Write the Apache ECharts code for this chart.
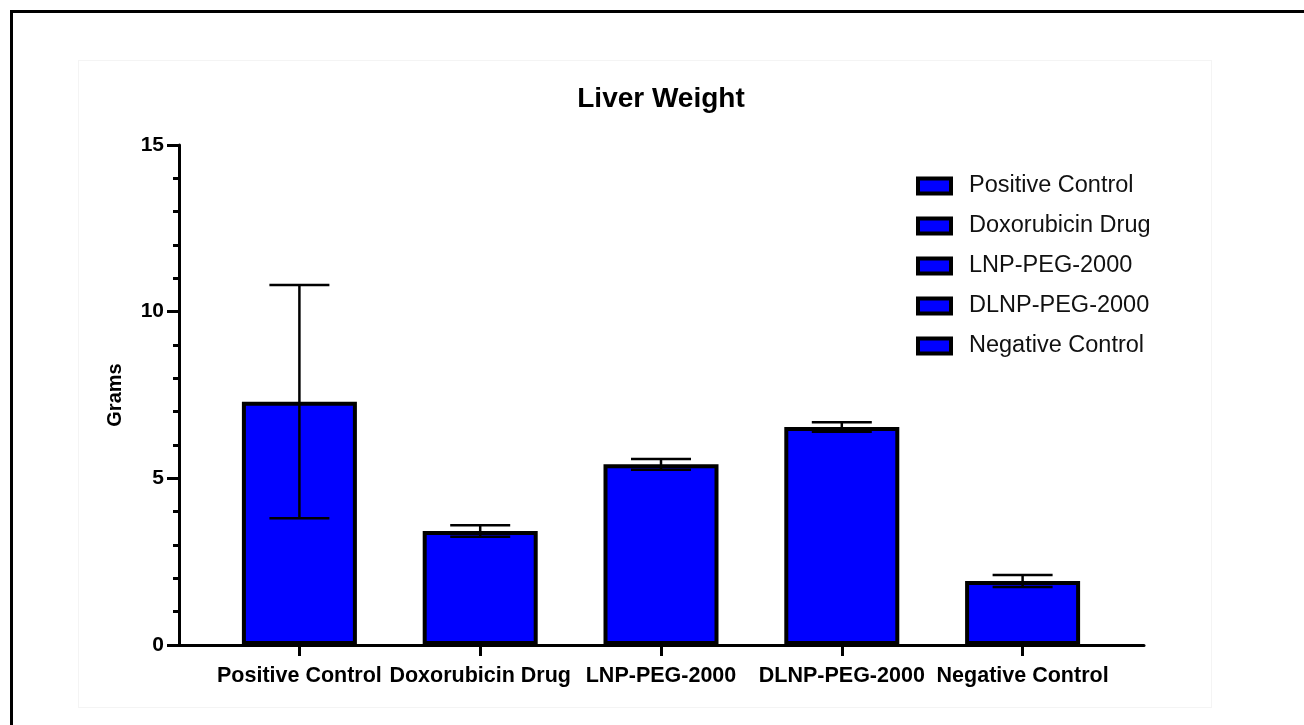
<!DOCTYPE html>
<html>
<head>
<meta charset="utf-8">
<script src="https://cdn.jsdelivr.net/npm/echarts@6/dist/echarts.min.js"></script>
<style>
  html, body { margin: 0; padding: 0; background: #fff; }
  #chart { position: absolute; left: 0; top: 0; width: 1304px; height: 725px; }
  #frame { position: absolute; left: 10px; top: 10px; width: 1300px; height: 720px;
           border-top: 3px solid #000; border-left: 3px solid #000; pointer-events: none; }
  #panel { position: absolute; left: 78px; top: 60px; width: 1132px; height: 646px;
           border: 1px solid #f4f4f4; pointer-events: none; }
</style>
</head>
<body>
<div id="panel"></div>
<div id="chart"></div>
<div id="frame"></div>
<script>
const categories = ['Positive Control', 'Doxorubicin Drug', 'LNP-PEG-2000', 'DLNP-PEG-2000', 'Negative Control'];
const means = [7.3, 3.42, 5.42, 6.54, 1.92];
const sds = [3.5, 0.17, 0.16, 0.14, 0.18];
const yTicks = [0, 5, 10, 15];

const FONT = "'Liberation Sans', Arial, Helvetica, sans-serif";
const chart = echarts.init(document.getElementById('chart'), null, { renderer: 'canvas' });

const barSeries = categories.map((name, i) => ({
  name: name,
  type: 'bar',
  stack: 'g',
  xAxisIndex: 1,
  yAxisIndex: 1,
  barWidth: 115,
  itemStyle: { color: '#0000ff', borderColor: '#000', borderWidth: 4 },
  data: means.map((v, j) => (j === i ? v : '-')),
  z: 2
}));

const errorSeries = {
  type: 'custom',
  xAxisIndex: 1,
  yAxisIndex: 1,
  z: 5,
  silent: true,
  data: means.map((m, i) => [i, m, sds[i]]),
  renderItem: function (params, api) {
    const i = api.value(0), m = api.value(1), s = api.value(2);
    const top = api.coord([i, m + s]);
    const bot = api.coord([i, m - s]);
    const hw = 30;
    const st = { stroke: '#000', lineWidth: 2.5 };
    return {
      type: 'group',
      children: [
        { type: 'line', shape: { x1: top[0], y1: top[1], x2: bot[0], y2: bot[1] }, style: st },
        { type: 'line', shape: { x1: top[0] - hw, y1: top[1], x2: top[0] + hw, y2: top[1] }, style: st },
        { type: 'line', shape: { x1: bot[0] - hw, y1: bot[1], x2: bot[0] + hw, y2: bot[1] }, style: st }
      ]
    };
  }
};

chart.setOption({
  animation: false,
  backgroundColor: 'transparent',
  title: {
    text: 'Liver Weight',
    left: 656,
    textAlign: 'center',
    top: 80,
    textStyle: { fontFamily: FONT, fontWeight: 'bold', fontSize: 28, color: '#000' }
  },
  legend: {
    orient: 'vertical',
    left: 916,
    top: 174,
    padding: 0,
    itemWidth: 33,
    itemHeight: 15,
    itemGap: 16,
    icon: 'rect',
    data: categories,
    itemStyle: { borderColor: '#000', borderWidth: 4 },
    textStyle: { fontFamily: FONT, fontSize: 23.5, color: '#111', padding: [0, 0, 0, 13] }
  },
  grid: [
    { left: 179, right: 160, top: 145, bottom: 80 },
    { left: 209, right: 191, top: 145, bottom: 80 }
  ],
  xAxis: [
    {
      gridIndex: 0, type: 'value', min: 0, max: 1,
      axisLine: { show: true, lineStyle: { color: '#000', width: 3 } },
      axisTick: { show: false }, axisLabel: { show: false }, splitLine: { show: false }
    },
    {
      gridIndex: 1, type: 'category', data: categories,
      axisLine: { show: false },
      axisTick: { show: true, alignWithLabel: true, length: 11, lineStyle: { color: '#000', width: 3 } },
      axisLabel: { fontFamily: FONT, fontWeight: 'bold', fontSize: 21.5, color: '#000', margin: 20, interval: 0 },
      splitLine: { show: false }
    }
  ],
  yAxis: [
    {
      gridIndex: 0, type: 'value', min: yTicks[0], max: yTicks[yTicks.length - 1], interval: 5,
      name: 'Grams', nameLocation: 'middle', nameGap: 54, nameRotate: 90,
      nameTextStyle: { fontFamily: FONT, fontWeight: 'bold', fontSize: 20, color: '#000' },
      axisLine: { show: true, lineStyle: { color: '#000', width: 3 } },
      axisTick: { show: true, length: 12, lineStyle: { color: '#000', width: 3 } },
      minorTick: { show: true, splitNumber: 5, length: 6, lineStyle: { color: '#000', width: 3 } },
      axisLabel: { fontFamily: FONT, fontWeight: 'bold', fontSize: 21, color: '#000', margin: 15 },
      splitLine: { show: false }
    },
    {
      gridIndex: 1, type: 'value', min: yTicks[0], max: yTicks[yTicks.length - 1], show: false
    }
  ],
  series: barSeries.concat([errorSeries])
});
</script>
</body>
</html>
